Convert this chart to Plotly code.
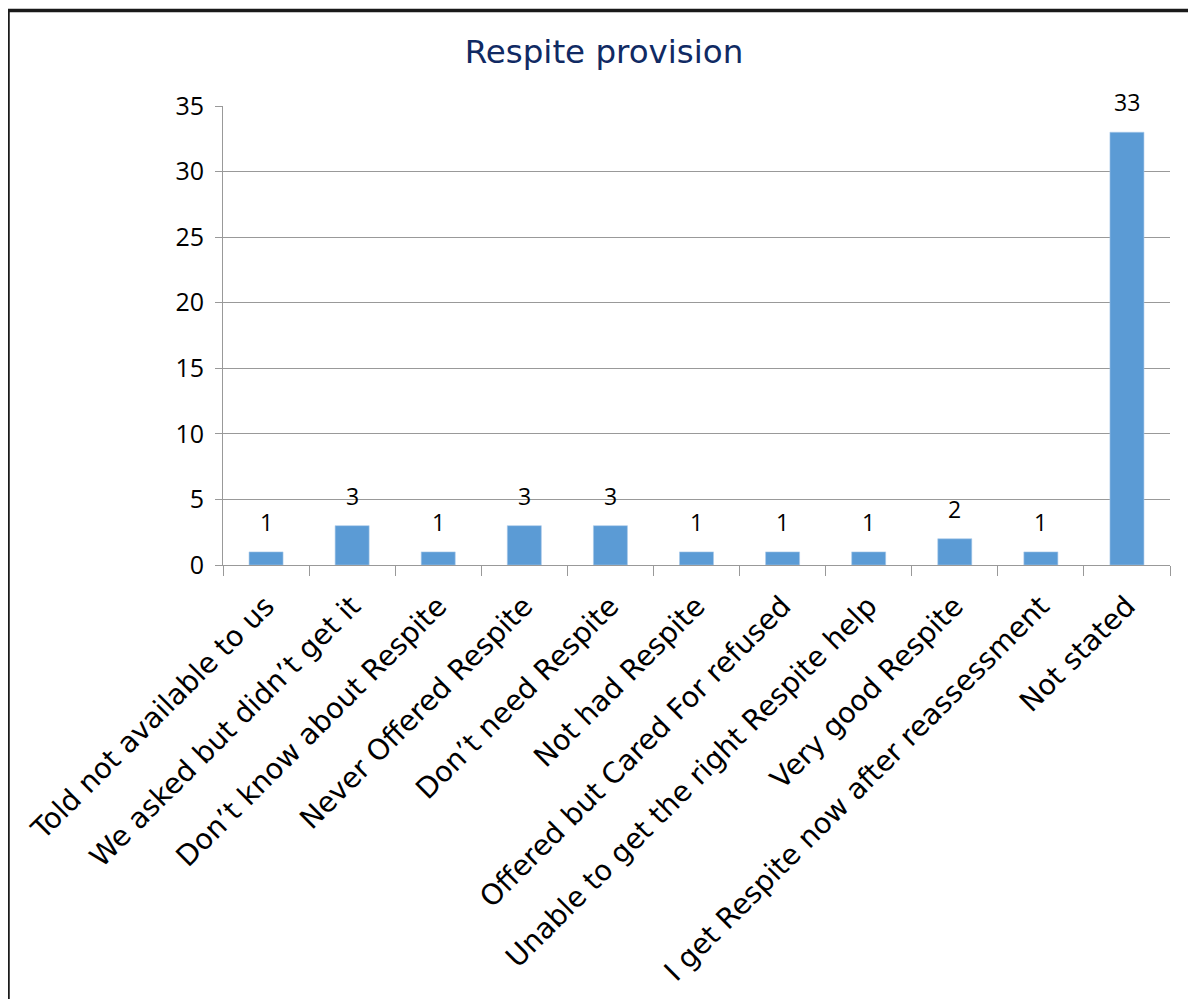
import plotly.graph_objects as go

categories = [
    "Told not available to us",
    "We asked but didn’t get it",
    "Don’t know about Respite",
    "Never Offered Respite",
    "Don’t need Respite",
    "Not had Respite",
    "Offered but Cared For refused",
    "Unable to get the right Respite help",
    "Very good Respite",
    "I get Respite now after reassessment",
    "Not stated",
]
values = [1, 3, 1, 3, 3, 1, 1, 1, 2, 1, 33]
y_ticks = [0, 5, 10, 15, 20, 25, 30, 35]

# page body has an 8px margin, so figure coords = screen coords - 8
OFF = 8
W, H = 1188, 991
L, T = 223 - OFF, 106 - OFF
pw = 1170 - 223
ph = 565 - 106
R = W - L - pw
B = H - T - ph


def px_x(p):
    return (p - OFF - L) / pw


def px_y(p):
    return (T + ph - (p - OFF)) / ph


fig = go.Figure()
fig.add_trace(go.Bar(
    x=categories,
    y=values,
    marker=dict(color="#5b9bd5", line=dict(color="#a9c9ea", width=0.6)),
    hoverinfo="x+y",
))

for c, v in zip(categories, values):
    fig.add_annotation(
        x=c, y=v, text=str(v), showarrow=False,
        yanchor="bottom", yshift=12,
        font=dict(family="Open Sans", size=23, color="#000000"),
    )

border = "M {x0},{y0} L {x0},{y1} L {x2},{y1}".format(
    x0=px_x(8), y0=px_y(1010), y1=px_y(10.5), x2=px_x(1193))
fig.add_shape(type="path", path=border, xref="paper", yref="paper",
              line=dict(color="#1a1a1a", width=3.5))

fig.update_layout(
    width=W, height=H,
    margin=dict(l=L, r=R, t=T, b=B, autoexpand=False),
    paper_bgcolor="white", plot_bgcolor="white",
    showlegend=False,
    bargap=0.605,
    title=dict(text="Respite provision", x=(604 - OFF) / W, xanchor="center",
               y=1 - (52 - OFF) / H, yanchor="middle", yref="container",
               font=dict(family="DejaVu Sans", size=32.5, color="#102a63")),
    xaxis=dict(
        type="category",
        tickangle=-45,
        tickson="boundaries",
        ticks="outside", ticklen=10, tickcolor="#999999", tickwidth=1,
        showline=True, linecolor="#999999", linewidth=1,
        showgrid=False,
        tickfont=dict(family="DejaVu Sans", size=28.5, color="#000000"),
        ticklabelstandoff=12,
        automargin=False,
    ),
    yaxis=dict(
        range=[0, 35],
        tickvals=y_ticks,
        ticks="outside", ticklen=7, tickcolor="#999999", tickwidth=1,
        showline=True, linecolor="#999999", linewidth=1,
        showgrid=True, gridcolor="#999999", gridwidth=1,
        zeroline=False,
        tickfont=dict(family="Open Sans", size=25, color="#000000"),
        ticklabelstandoff=6,
        automargin=False,
    ),
)

fig.write_html("out.html")
